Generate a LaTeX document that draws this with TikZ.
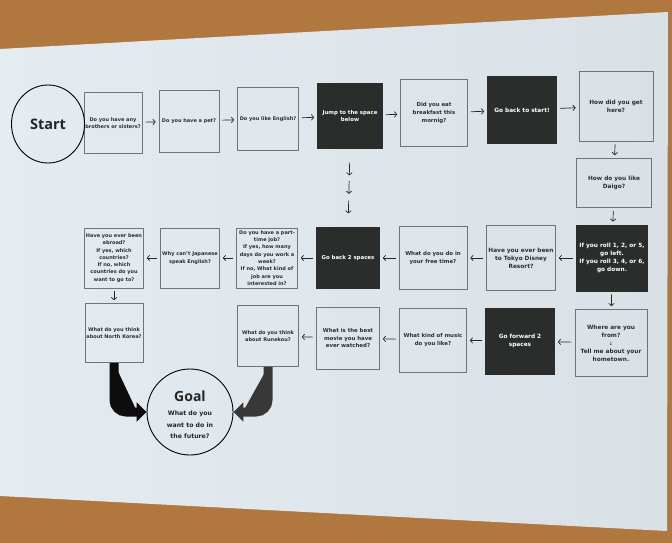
\documentclass[tikz,border=0pt]{standalone}
\usepackage{fontspec}
\setmainfont{DejaVu Sans}
\newfontfamily\titlefont{Open Sans}
\usetikzlibrary{arrows.meta,shapes.geometric,calc}
\definecolor{wood}{HTML}{B0773F}
\definecolor{paperL}{HTML}{E4EBF1}
\definecolor{paperR}{HTML}{D9E1E6}
\definecolor{ink}{HTML}{2B2D2C}
\tikzset{
  qb/.style={draw=black!55, line width=0.6pt, inner sep=1pt, align=center, text=black!82},
  blk/.style={qb, fill=ink, draw=ink, text=white!94},
  sz/.style 2 args={minimum width=#1, minimum height=#2},
  fsL/.style={font=\bfseries\fontsize{5}{7.3}\selectfont},
  fsM/.style={font=\bfseries\fontsize{5.4}{7.7}\selectfont},
  fsR/.style={font=\bfseries\fontsize{5.8}{8}\selectfont},
  arr/.style={-{Straight Barb[length=2.4pt,width=5.5pt]}, line width=0.7pt, draw=black!85, shorten <=3pt, shorten >=3pt},
  bigarr/.style={line width=9pt, rounded corners=12pt, -{Triangle[length=10pt,width=19pt]}}
}
\begin{document}
\begin{tikzpicture}[x=1pt,y=-1pt]
\useasboundingbox (0,0) rectangle (672,543);
\fill[wood] (0,0) rectangle (672,543);
\shade[left color=paperL, right color=paperR] (0,49) -- (668,12) -- (667,531) -- (0,496) -- cycle;

% row 1
\node[qb,fsL,sz={58pt}{61pt}] (b1) at (113,123) {Do you have any\\brothers or sisters?};
\node[draw=black, line width=0.9pt, ellipse, minimum width=73pt, minimum height=78pt, inner sep=0pt,
      font=\titlefont\bfseries\fontsize{14.5}{16}\selectfont, text=black!85] (start) at (48,124) {Start};
\node[qb,fsL,sz={60pt}{62pt}] (b2) at (189,121) {Do you have a pet?};
\node[qb,fsL,sz={61pt}{63pt}] (b3) at (268,119) {Do you like English?};
\node[blk,fsM,sz={65pt}{65pt}] (b4) at (350,116) {Jump to the space\\below};
\node[qb,fsM,sz={67pt}{67pt}] (b5) at (434,113) {Did you eat\\breakfast this\\mornig?};
\node[blk,fsR,sz={69pt}{67pt}] (b6) at (522,110) {Go back to start!};
\node[qb,fsR,sz={74pt}{70pt}] (b7) at (616,106) {How did you get\\here?};
\node[qb,fsR,sz={75pt}{49pt}] (b8) at (614,183) {How do you like\\Daigo?};
\node[blk,fsR,sz={71pt}{66pt}] (b9) at (612,258) {If you roll 1, 2, or 5,\\go left.\\If you roll 3, 4, or 6,\\go down.};
\node[qb,fsR,sz={72pt}{67pt}] (b10) at (611,343) {Where are you\\from?\\{\fontsize{4.5}{5}\selectfont ↓}\\Tell me about your\\hometown.};

% row 2
\node[qb,fsR,sz={69pt}{65pt}] (tokyo) at (521,258) {Have you ever been\\to Tokyo Disney\\Resort?};
\node[qb,fsM,sz={68pt}{63pt}] (free) at (433,258) {What do you do in\\your free time?};
\node[blk,fsM,sz={63pt}{61pt}] (gb2) at (348,258) {Go back 2 spaces};
\node[qb,fsL,sz={61pt}{60pt}] (part) at (267,258) {Do you have a part-\\time job?\\If yes, how many\\days do you work a\\week?\\If no, What kind of\\job are you\\interested in?};
\node[qb,fsL,sz={59pt}{60pt}] (why) at (190,258) {Why can't Japanese\\speak English?};
\node[qb,fsL,sz={59pt}{60pt}] (abroad) at (114,258) {Have you ever been\\abroad?\\If yes, which\\countries?\\If no, which\\countries do you\\want to go to?};

% row 3
\node[qb,fsL,sz={58pt}{59pt}] (nk) at (114,333) {What do you think\\about North Korea?};
\node[qb,fsL,sz={61pt}{61pt}] (run) at (268,336) {What do you think\\about Runekou?};
\node[qb,fsM,sz={63pt}{62pt}] (movie) at (348,338) {What is the best\\movie you have\\ever watched?};
\node[qb,fsM,sz={67pt}{64pt}] (music) at (433,340) {What kind of music\\do you like?};
\node[blk,fsR,sz={69pt}{66pt}] (fwd) at (520,341) {Go forward 2\\spaces};

% goal
\node[draw=black, line width=0.9pt, circle, minimum size=86pt, inner sep=0pt] (goal) at (190,412) {};
\node[font=\titlefont\bfseries\fontsize{14}{16}\selectfont, text=black!85, inner sep=0pt] (goalt) at (190,396) {Goal};
\node[font=\bfseries\fontsize{6.2}{11.5}\selectfont, text=black!85, align=center, inner sep=0pt] (goalq) at (190,425) {What do you\\want to do in\\the future?};

% connectors row 1
\draw[arr] (b1) -- (b2);
\draw[arr] (b2) -- (b3);
\draw[arr] (b3) -- (b4);
\draw[arr] (b4) -- (b5);
\draw[arr] (b5) -- (b6);
\draw[arr] (b6) -- (b7);
\draw[arr] (b7) -- (b8);
\draw[arr] (b8) -- (b9);
\draw[arr] (b9) -- (b10);
% row 2
\draw[arr] (b9) -- (tokyo);
\draw[arr] (tokyo) -- (free);
\draw[arr] (free) -- (gb2);
\draw[arr] (gb2) -- (part);
\draw[arr] (part) -- (why);
\draw[arr] (why) -- (abroad);
\draw[arr] (abroad) -- (nk);
% row 3
\draw[arr] (b10) -- (fwd);
\draw[arr] (fwd) -- (music);
\draw[arr] (music) -- (movie);
\draw[arr] (movie) -- (run);

% three stacked arrows
\coordinate (j1a) at ($(b4.south)!0.175!(gb2.north)$);
\coordinate (j1b) at ($(b4.south)!0.34!(gb2.north)$);
\coordinate (j2a) at ($(b4.south)!0.41!(gb2.north)$);
\coordinate (j2b) at ($(b4.south)!0.575!(gb2.north)$);
\coordinate (j3a) at ($(b4.south)!0.66!(gb2.north)$);
\coordinate (j3b) at ($(b4.south)!0.825!(gb2.north)$);
\draw[arr, shorten <=0pt, shorten >=0pt] (j1a) -- (j1b);
\draw[arr, shorten <=0pt, shorten >=0pt] (j2a) -- (j2b);
\draw[arr, shorten <=0pt, shorten >=0pt] (j3a) -- (j3b);

% big arrows to goal
\draw[bigarr, draw=black!95, fill=black!95] (nk.south) |- (goal.west);
\draw[bigarr, draw=black!78, fill=black!78] (run.south) |- (goal.east);
\end{tikzpicture}
\end{document}
